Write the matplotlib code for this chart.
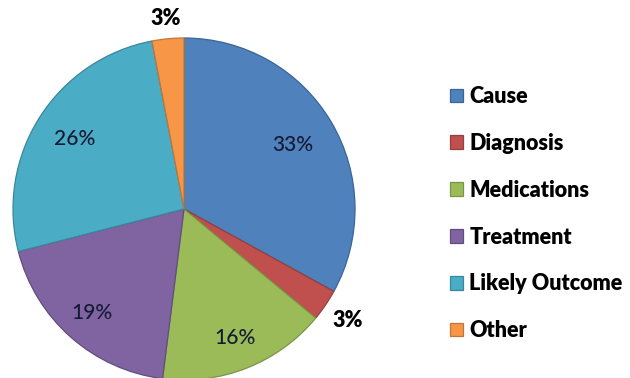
import numpy as np
import matplotlib
matplotlib.use("Agg")
import matplotlib.pyplot as plt

categories = ["Cause", "Diagnosis", "Medications", "Treatment", "Likely Outcome", "Other"]
shares = [33, 3, 16, 19, 26, 3]
colors = ["#4F81BD", "#C0504D", "#9BBB59", "#8064A2", "#4BACC6", "#F79646"]
edge_colors = ["#3a6596", "#94403d", "#7b9446", "#624d7d", "#3a879b", "#c07539"]

W, H = 630, 378
fig = plt.figure(figsize=(W / 100, H / 100), dpi=100)
ax = fig.add_axes([0, 0, 1, 1])

cx, cy, R = 184, H - 209, 171
wedges, _ = ax.pie(shares, colors=colors, startangle=90, counterclock=False,
                   center=(cx, cy), radius=R, frame=True,
                   wedgeprops=dict(linewidth=0.9))
for w, ec in zip(wedges, edge_colors):
    w.set_edgecolor(ec)
ax.set_xlim(0, W)
ax.set_ylim(0, H)
ax.set_aspect("equal")
ax.axis("off")

# radial position of each label, as a fraction of the radius
label_r = [0.74, 1.16, 0.81, 0.81, 0.76, 1.12]
for w, v, fr in zip(wedges, shares, label_r):
    mid = np.deg2rad((w.theta1 + w.theta2) / 2)
    x = cx + fr * R * np.cos(mid)
    y = cy + fr * R * np.sin(mid)
    outside = fr > 1
    ax.text(x, y, f"{v}%", ha="center", va="center",
            fontsize=15.5 if outside else 15,
            fontweight="heavy" if outside else "medium",
            color="black" if outside else "#141a33",
            family="Lato")

leg = fig.legend(wedges, categories, loc="upper left",
                 bbox_to_anchor=(450 / W, 1 - 86 / H), frameon=False,
                 prop=dict(family="Lato", weight="heavy", size=15.5),
                 handlelength=0.6, handleheight=0.6, handletextpad=0.3,
                 labelspacing=1.2, borderpad=0, borderaxespad=0)

fig.savefig("out.png", dpi=100)
